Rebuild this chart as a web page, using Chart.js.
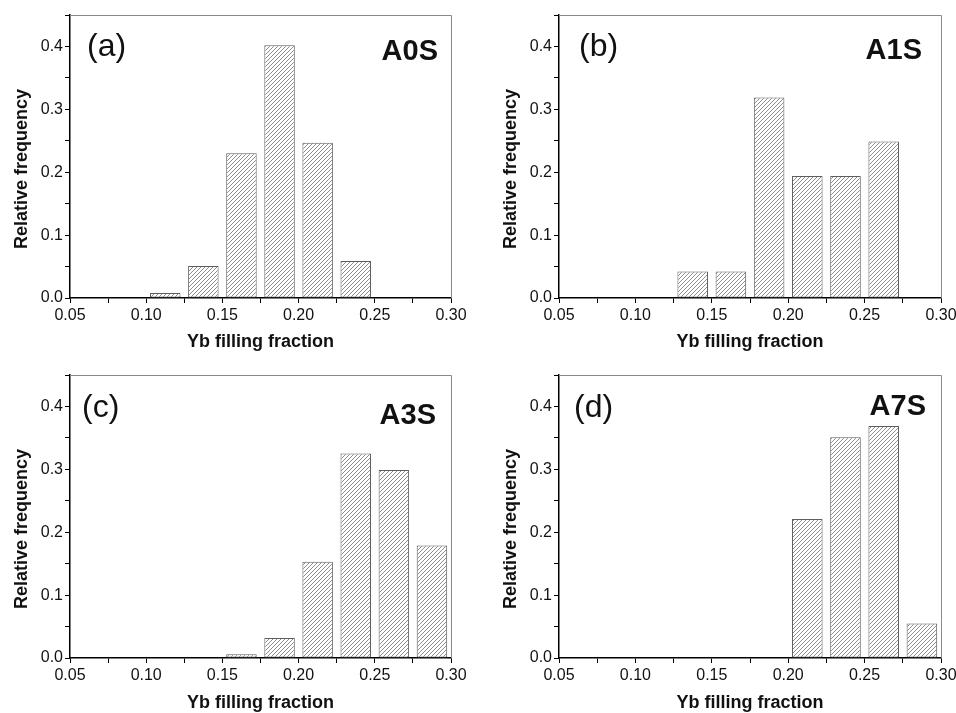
<!DOCTYPE html>
<html>
<head>
<meta charset="utf-8">
<script src="https://cdn.jsdelivr.net/npm/chart.js@4.4.0/dist/chart.umd.min.js"></script>
<style>
  html, body { margin: 0; padding: 0; background: #fff; }
  #figura { position: relative; width: 956px; height: 713px; overflow: hidden; }
  .panel { position: absolute; height: 357px; }
</style>
</head>
<body>
<div id="figura">
  <div class="panel" style="left:0px;top:0px;width:478px"><canvas id="grafico_a" width="478" height="357"></canvas></div>
  <div class="panel" style="left:478px;top:0px;width:500px"><canvas id="grafico_b" width="500" height="357"></canvas></div>
  <div class="panel" style="left:0px;top:356px;width:478px"><canvas id="grafico_c" width="478" height="357"></canvas></div>
  <div class="panel" style="left:478px;top:356px;width:500px"><canvas id="grafico_d" width="500" height="357"></canvas></div>
</div>
<script>
/*********-datos-*********/
// centros de los intervalos (ancho 0.025)
const BINS = [0.1125, 0.1375, 0.1625, 0.1875, 0.2125, 0.2375, 0.2625, 0.2875];
const FREQ_A0S = [0.008, 0.051, 0.230, 0.402, 0.247, 0.059, null, null];
const FREQ_A1S = [null, 0.042, 0.042, 0.319, 0.194, 0.194, 0.249, null];
const FREQ_A3S = [null, null, 0.006, 0.032, 0.153, 0.325, 0.299, 0.179];
const FREQ_A7S = [null, null, null, null, 0.221, 0.351, 0.369, 0.055];
const X_TICKS = [0.05, 0.10, 0.15, 0.20, 0.25, 0.30];
const Y_TICKS = [0.0, 0.1, 0.2, 0.3, 0.4];
const X_TITULO = "Yb filling fraction";
const Y_TITULO = "Relative frequency";
//------------------------------------//

const FUENTE = "'Liberation Sans', Arial, Helvetica, sans-serif";

/*********-rayado de las barras-*********/
function rayado() {
  const c = document.createElement("canvas");
  c.width = 4; c.height = 4;
  const g = c.getContext("2d");
  g.fillStyle = "#fff";
  g.fillRect(0, 0, 4, 4);
  g.strokeStyle = "#8e8e8e";
  g.lineWidth = 1;
  g.beginPath();
  g.moveTo(0, 4); g.lineTo(4, 0);
  g.moveTo(-1, 1); g.lineTo(1, -1);
  g.moveTo(3, 5); g.lineTo(5, 3);
  g.stroke();
  return g.createPattern(c, "repeat");
}
const RAYADO = rayado();
//------------------------------------//

/*********-marco y textos de cada panel-*********/
const textos = {
  id: "textos",
  afterDraw(chart, args, op) {
    const ctx = chart.ctx;
    const a = chart.chartArea;
    ctx.save();
    // marco gris arriba y a la derecha
    ctx.strokeStyle = "#8a8a8a";
    ctx.lineWidth = 1;
    ctx.beginPath();
    ctx.moveTo(a.left, Math.round(a.top) + 0.5);
    ctx.lineTo(Math.round(a.right) + 0.5, Math.round(a.top) + 0.5);
    ctx.lineTo(Math.round(a.right) + 0.5, a.bottom);
    ctx.stroke();

    ctx.fillStyle = "#111";
    // (a), (b)...
    ctx.font = "32px " + FUENTE;
    ctx.textAlign = "left";
    ctx.textBaseline = "alphabetic";
    ctx.fillText(op.letra, op.letraX, op.letraY);
    // nombre de la muestra
    ctx.font = "bold 29px " + FUENTE;
    ctx.textAlign = "right";
    ctx.fillText(op.nombre, op.nombreX, op.nombreY);

    // titulos de los ejes
    ctx.font = "bold 18px " + FUENTE;
    ctx.textAlign = "center";
    ctx.textBaseline = "middle";
    ctx.fillText(X_TITULO, (a.left + a.right) / 2, op.xTituloY);
    ctx.translate(op.yTituloX, op.yTituloY);
    ctx.rotate(-Math.PI / 2);
    ctx.fillText(Y_TITULO, 0, 0);
    ctx.restore();
  }
};
//------------------------------------//

function esTick(v, lista) {
  return lista.some(t => Math.abs(t - v) < 1e-6);
}

/*********-hacer un panel-*********/
function hacerPanel(id, valores, area, op) {
  const datos = BINS.map((x, i) => ({ x: x, y: valores[i] })).filter(p => p.y !== null);
  const LIENZO = document.getElementById(id);
  const ALTO = LIENZO.height, ANCHO = LIENZO.width;
  new Chart(LIENZO.getContext("2d"), {
    type: "bar",
    data: {
      datasets: [{
        data: datos,
        backgroundColor: RAYADO,
        borderColor: "#5e5e5e",
        borderWidth: 1,
        borderSkipped: false,
        categoryPercentage: 1,
        barPercentage: 0.8
      }]
    },
    options: {
      responsive: false,
      animation: false,
      devicePixelRatio: 1,
      layout: {
        padding: { left: 0, right: ANCHO - area.r, top: area.t, bottom: 0 }
      },
      plugins: {
        legend: { display: false },
        tooltip: { enabled: false },
        textos: op
      },
      scales: {
        x: {
          type: "linear",
          min: 0.05,
          max: 0.30,
          offset: false,
          afterFit: s => { s.height = ALTO - area.b; },
          grid: { display: true, drawOnChartArea: false, offset: false, tickLength: 5, tickColor: "#000", tickWidth: 1 },
          border: { display: true, color: "#000", width: 1.5 },
          ticks: {
            stepSize: 0.025,
            autoSkip: false,
            maxRotation: 0,
            padding: 3,
            color: "#111",
            font: { family: FUENTE, size: 16 },
            callback: v => esTick(v, X_TICKS) ? v.toFixed(2) : ""
          }
        },
        y: {
          min: 0,
          max: 0.45,
          afterFit: s => { s.width = area.l; },
          grid: { display: true, drawOnChartArea: false, tickLength: 5, tickColor: "#000", tickWidth: 1 },
          border: { display: true, color: "#000", width: 1.5 },
          ticks: {
            stepSize: 0.05,
            autoSkip: false,
            padding: 2,
            color: "#111",
            font: { family: FUENTE, size: 16 },
            callback: v => esTick(v, Y_TICKS) ? v.toFixed(1) : ""
          }
        }
      }
    },
    plugins: [textos]
  });
}
//------------------------------------//

// CREAR los 4 paneles //
hacerPanel("grafico_a", FREQ_A0S, { l: 70, r: 451, t: 15, b: 298 },
  { letra: "(a)", letraX: 87, letraY: 56, nombre: "A0S", nombreX: 438, nombreY: 60, xTituloY: 342, yTituloX: 22, yTituloY: 169 });
hacerPanel("grafico_b", FREQ_A1S, { l: 81, r: 463, t: 15, b: 298 },
  { letra: "(b)", letraX: 101, letraY: 56, nombre: "A1S", nombreX: 444, nombreY: 59, xTituloY: 342, yTituloX: 33, yTituloY: 169 });
hacerPanel("grafico_c", FREQ_A3S, { l: 70, r: 451, t: 19, b: 302 },
  { letra: "(c)", letraX: 82, letraY: 61, nombre: "A3S", nombreX: 436, nombreY: 68, xTituloY: 347, yTituloX: 22, yTituloY: 173 });
hacerPanel("grafico_d", FREQ_A7S, { l: 81, r: 463, t: 19, b: 302 },
  { letra: "(d)", letraX: 96, letraY: 61, nombre: "A7S", nombreX: 448, nombreY: 59, xTituloY: 347, yTituloX: 33, yTituloY: 173 });
</script>
</body>
</html>
